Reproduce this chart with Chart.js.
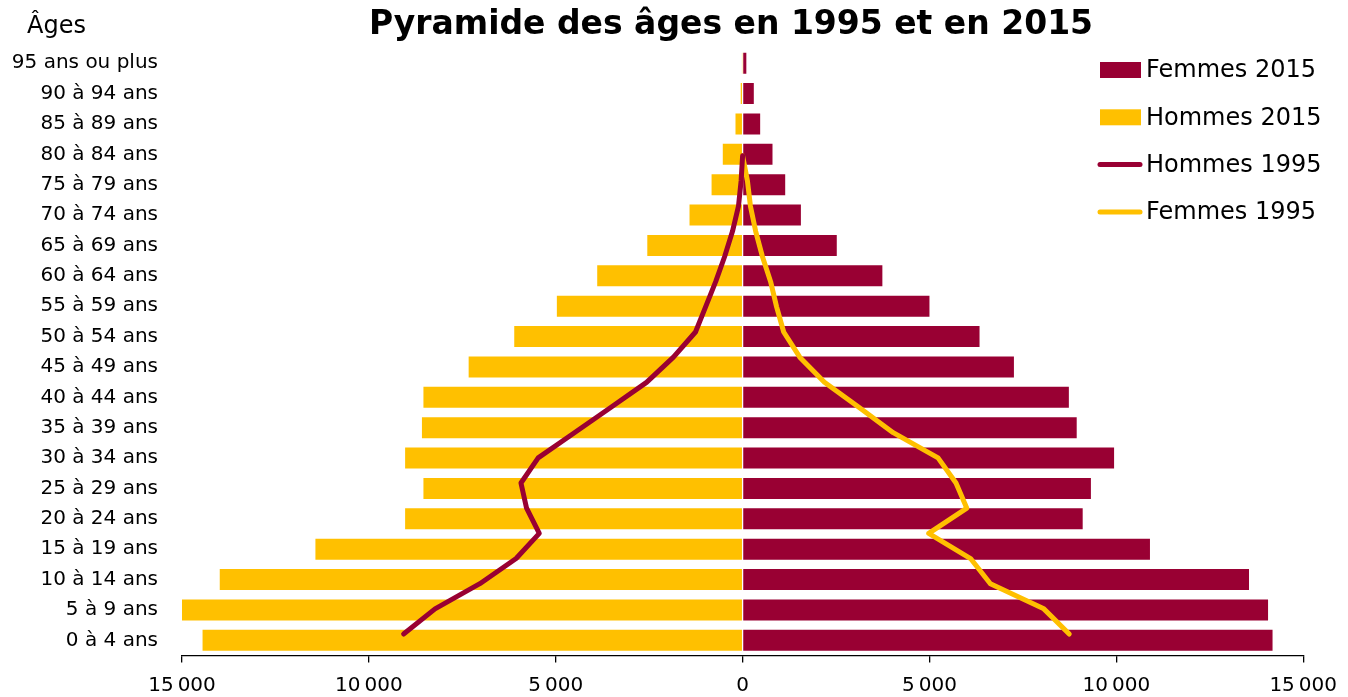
<!DOCTYPE html>
<html>
<head>
<meta charset="utf-8">
<script src="https://cdn.jsdelivr.net/npm/chart.js@4"></script>
<style>
  html, body { margin: 0; padding: 0; background: #ffffff; }
  #wrap { width: 1348px; height: 697px; position: relative; }
</style>
</head>
<body>
<div id="wrap"><canvas id="c" width="1348" height="697"></canvas></div>
<script>
// Categories (youngest first)
const ages = ['0 à 4 ans','5 à 9 ans','10 à 14 ans','15 à 19 ans','20 à 24 ans','25 à 29 ans','30 à 34 ans','35 à 39 ans','40 à 44 ans','45 à 49 ans','50 à 54 ans','55 à 59 ans','60 à 64 ans','65 à 69 ans','70 à 74 ans','75 à 79 ans','80 à 84 ans','85 à 89 ans','90 à 94 ans','95 ans ou plus'];

// 2015 bars
const hommes2015 = [14450, 15000, 13990, 11430, 9030, 8540, 9030, 8580, 8540, 7330, 6110, 4970, 3890, 2550, 1420, 830, 530, 190, 50, 10];
const femmes2015 = [14180, 14060, 13550, 10900, 9100, 9320, 9940, 8940, 8730, 7260, 6340, 5000, 3740, 2520, 1560, 1140, 800, 470, 300, 100];

// 1995 lines
const hommes1995 = [9070, 8230, 7030, 6060, 5440, 5780, 5930, 5470, 4500, 3530, 2570, 1850, 1260, 990, 720, 480, 270, 110, 40, 0];
const femmes1995 = [8740, 8060, 6630, 6100, 4980, 6000, 5710, 5230, 4030, 3120, 2190, 1530, 1100, 910, 750, 530, 350, 210, 130, 0];

// X axis ticks
const xTicks = [-15000, -10000, -5000, 0, 5000, 10000, 15000];

const RED = '#990033';
const YEL = '#FFC000';
const FONT = "'DejaVu Sans', Verdana, sans-serif";

const legendItems = [
  { label: 'Femmes 2015', color: RED, kind: 'box' },
  { label: 'Hommes 2015', color: YEL, kind: 'box' },
  { label: 'Hommes 1995', color: RED, kind: 'line' },
  { label: 'Femmes 1995', color: YEL, kind: 'line' }
];

const decor = {
  id: 'decor',
  afterDraw(chart) {
    const ctx = chart.ctx;
    ctx.save();
    // Title
    ctx.fillStyle = '#000';
    ctx.font = 'bold 33px ' + FONT;
    ctx.textAlign = 'center';
    ctx.textBaseline = 'alphabetic';
    ctx.fillText('Pyramide des âges en 1995 et en 2015', 731, 34);
    // Axis title
    ctx.font = '24px ' + FONT;
    ctx.textAlign = 'left';
    ctx.fillText('Âges', 27, 33);
    // Legend
    ctx.font = '24px ' + FONT;
    ctx.textBaseline = 'middle';
    legendItems.forEach((it, i) => {
      const cy = 70 + i * 47.3;
      if (it.kind === 'box') {
        ctx.fillStyle = it.color;
        ctx.fillRect(1100, cy - 8, 41, 16);
      } else {
        ctx.strokeStyle = it.color;
        ctx.lineWidth = 5;
        ctx.lineCap = 'round';
        ctx.beginPath();
        ctx.moveTo(1100, cy);
        ctx.lineTo(1140, cy);
        ctx.stroke();
      }
      ctx.fillStyle = '#000';
      ctx.fillText(it.label, 1146, cy + 1);
    });
    ctx.restore();
  }
};

const linePts = (arr, sign) => arr.map((v, i) => ({ x: sign * v, y: i }));

new Chart(document.getElementById('c'), {
  type: 'bar',
  data: {
    labels: ages,
    datasets: [
      {
        type: 'line', label: 'Hommes 1995', data: linePts(hommes1995, -1),
        yAxisID: 'y2', xAxisID: 'x', indexAxis: 'y',
        borderColor: RED, borderWidth: 5, pointRadius: 0, tension: 0,
        borderCapStyle: 'round', borderJoinStyle: 'round', fill: false, order: 0
      },
      {
        type: 'line', label: 'Femmes 1995', data: linePts(femmes1995, 1),
        yAxisID: 'y2', xAxisID: 'x', indexAxis: 'y',
        borderColor: YEL, borderWidth: 5, pointRadius: 0, tension: 0,
        borderCapStyle: 'round', borderJoinStyle: 'round', fill: false, order: 0
      },
      {
        label: 'Hommes 2015', data: hommes2015.map(v => -v),
        backgroundColor: YEL, yAxisID: 'y', xAxisID: 'x',
        grouped: false, barPercentage: 0.69, categoryPercentage: 1, order: 1
      },
      {
        label: 'Femmes 2015', data: femmes2015,
        backgroundColor: RED, yAxisID: 'y', xAxisID: 'x',
        grouped: false, barPercentage: 0.69, categoryPercentage: 1, order: 1
      }
    ]
  },
  options: {
    indexAxis: 'y',
    responsive: false,
    animation: false,
    layout: { padding: { top: 48, right: 44, left: 0, bottom: 0 } },
    plugins: {
      legend: { display: false },
      title: { display: false },
      tooltip: { enabled: false }
    },
    scales: {
      x: {
        type: 'linear',
        position: 'bottom',
        min: xTicks[0], max: xTicks[xTicks.length - 1],
        afterBuildTicks(scale) { scale.ticks = xTicks.map(v => ({ value: v })); },
        afterFit(scale) { scale.height = 41.5; },
        ticks: {
          color: '#000',
          font: { family: FONT, size: 20 },
          padding: 11,
          maxRotation: 0,
          callback: (v) => Math.abs(v).toLocaleString('fr-FR')
        },
        grid: { drawOnChartArea: false, drawTicks: true, tickLength: 7, color: '#000', lineWidth: 1.3 },
        border: { display: true, color: '#000', width: 1.3 }
      },
      y: {
        type: 'category',
        position: 'left',
        reverse: true,
        offset: true,
        afterFit(scale) { scale.width = 182; },
        ticks: { color: '#000', font: { family: FONT, size: 20 }, padding: 24, autoSkip: false },
        grid: { display: false, drawTicks: false },
        border: { display: false }
      },
      y2: {
        type: 'linear',
        display: false,
        position: 'left',
        offset: false,
        grace: 0,
        min: -0.853, max: 23.284
      }
    }
  },
  plugins: [decor]
});
</script>
</body>
</html>
